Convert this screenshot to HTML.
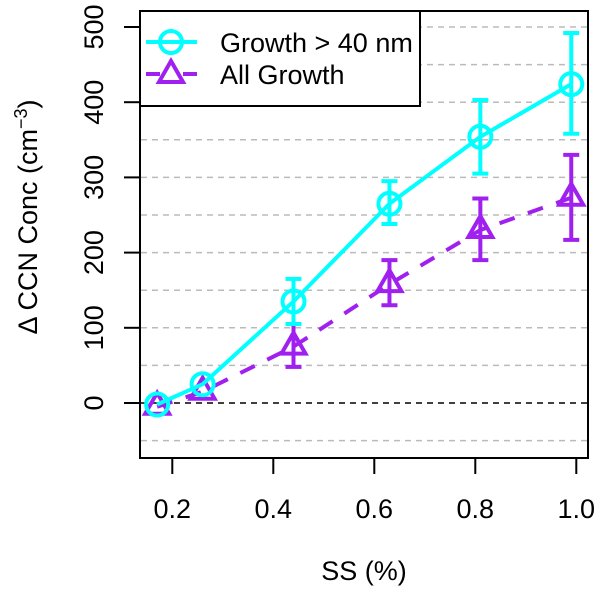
<!DOCTYPE html>
<html><head><meta charset="utf-8"><style>
body{margin:0;background:#fff}
svg text{font-family:"Liberation Sans",sans-serif;fill:#000}
</style></head><body>
<svg id="chart" width="600" height="591" viewBox="0 0 600 591" xmlns="http://www.w3.org/2000/svg">
<g id="grid"></g>
<g id="series"></g>
<g id="axes"></g>
<rect x="140" y="11" width="448" height="447" fill="none" stroke="#000" stroke-width="2"/>
<g>
<rect x="140" y="11" width="280" height="95" fill="#fff" stroke="#000" stroke-width="2"/>
<g>
<line x1="146" y1="42" x2="197" y2="42" stroke="#00FFFF" stroke-width="4"/>
<circle cx="171" cy="42" r="11" fill="none" stroke="#00FFFF" stroke-width="4"/>
<text x="220" y="52" font-size="27">Growth &gt; 40 nm</text></g>
<g>
<line x1="146" y1="74" x2="160" y2="74" stroke="#A020F0" stroke-width="4"/>
<line x1="183" y1="74" x2="197" y2="74" stroke="#A020F0" stroke-width="4"/>
<polygon points="171,61 183,82 159,82" fill="none" stroke="#A020F0" stroke-width="4"/>
<text x="220" y="84" font-size="27">All Growth</text></g>
</g>
<text x="364" y="580" font-size="27" text-anchor="middle">SS (%)</text>
<text transform="translate(37,217) rotate(-90)" font-size="27" text-anchor="middle">Δ CCN Conc (cm<tspan dy="-10" font-size="18">−3</tspan><tspan dy="10">)</tspan></text>
</svg>
<script>
const ss = [0.17, 0.26, 0.44, 0.63, 0.81, 0.99];
const growth40 = [-2, 25, 135, 265, 354, 424];
const growth40Lo = [-2, 25, 105, 238, 305, 358];
const growth40Hi = [-2, 25, 165, 295, 403, 492];
const allGrowth = [-5, 15, 75, 158, 230, 273];
const allGrowthLo = [-5, 15, 48, 130, 190, 217];
const allGrowthHi = [-5, 15, 105, 190, 272, 330];
const xTicks = [0.2, 0.4, 0.6, 0.8, 1.0];
const xTickLabels = ["0.2", "0.4", "0.6", "0.8", "1.0"];
const yTicks = [0, 100, 200, 300, 400, 500];
const gridVals = [-50, 50, 100, 150, 200, 250, 300, 350, 400, 450, 500];

const NS = "http://www.w3.org/2000/svg";
const X = v => 172.3 + (v - 0.2) * 505;
const Y = v => 403 - v * 0.752;
function mk(tag, attrs, parent) {
  const e = document.createElementNS(NS, tag);
  for (const k in attrs) e.setAttribute(k, attrs[k]);
  parent.appendChild(e); return e;
}
const grid = document.getElementById('grid');
gridVals.forEach(g => {
  const l = mk('line', {x1: 141, x2: 587, y1: Y(g), y2: Y(g), stroke: '#bbb', 'stroke-width': 1.5, 'stroke-dasharray': '6,5'}, grid);
  
  
});
const zl = mk('line', {x1: 141, x2: 587, y1: Y(0), y2: Y(0), stroke: '#000', 'stroke-width': 1.5, 'stroke-dasharray': '6,5'}, grid);



const axes = document.getElementById('axes');
xTicks.forEach((t, i) => {
  mk('line', {x1: X(t), x2: X(t), y1: 458, y2: 474, stroke: '#000', 'stroke-width': 2}, axes);
  const tx = mk('text', {x: X(t), y: 518, 'font-size': 27, 'text-anchor': 'middle'}, axes);
  tx.textContent = xTickLabels[i];
  
  
});
yTicks.forEach(t => {
  mk('line', {x1: 124, x2: 140, y1: Y(t), y2: Y(t), stroke: '#000', 'stroke-width': 2}, axes);
  const tx = mk('text', {transform: `translate(103,${Y(t)}) rotate(-90)`, 'font-size': 27, 'text-anchor': 'middle'}, axes);
  tx.textContent = String(t);
  
  
});

const series = document.getElementById('series');
function drawSeries(vals, lo, hi, color, dashed, marker, name) {
  const g = mk('g', {}, series);
  
  
  const pts = ss.map((s, i) => X(s) + ',' + Y(vals[i])).join(' ');
  const attrs = {points: pts, fill: 'none', stroke: color, 'stroke-width': 4};
  if (dashed) attrs['stroke-dasharray'] = '16,14';
  mk('polyline', attrs, g);
  ss.forEach((s, i) => {
    const x = X(s);
    if (hi[i] !== lo[i]) {
      mk('line', {x1: x, x2: x, y1: Y(hi[i]), y2: Y(lo[i]), stroke: color, 'stroke-width': 4}, g);
      mk('line', {x1: x - 8, x2: x + 8, y1: Y(hi[i]), y2: Y(hi[i]), stroke: color, 'stroke-width': 4}, g);
      mk('line', {x1: x - 8, x2: x + 8, y1: Y(lo[i]), y2: Y(lo[i]), stroke: color, 'stroke-width': 4}, g);
    }
    const y = Y(vals[i]);
    let m;
    if (marker === 'circle') m = mk('circle', {cx: x, cy: y, r: 11, fill: 'none', stroke: color, 'stroke-width': 4}, g);
    else m = mk('polygon', {points: `${x},${y - 14} ${x + 12},${y + 7} ${x - 12},${y + 7}`, fill: 'none', stroke: color, 'stroke-width': 4}, g);
    
    
  });
}
drawSeries(allGrowth, allGrowthLo, allGrowthHi, '#A020F0', true, 'tri', 'series-all-growth');
drawSeries(growth40, growth40Lo, growth40Hi, '#00FFFF', false, 'circle', 'series-growth-40nm');
</script>
</body></html>
